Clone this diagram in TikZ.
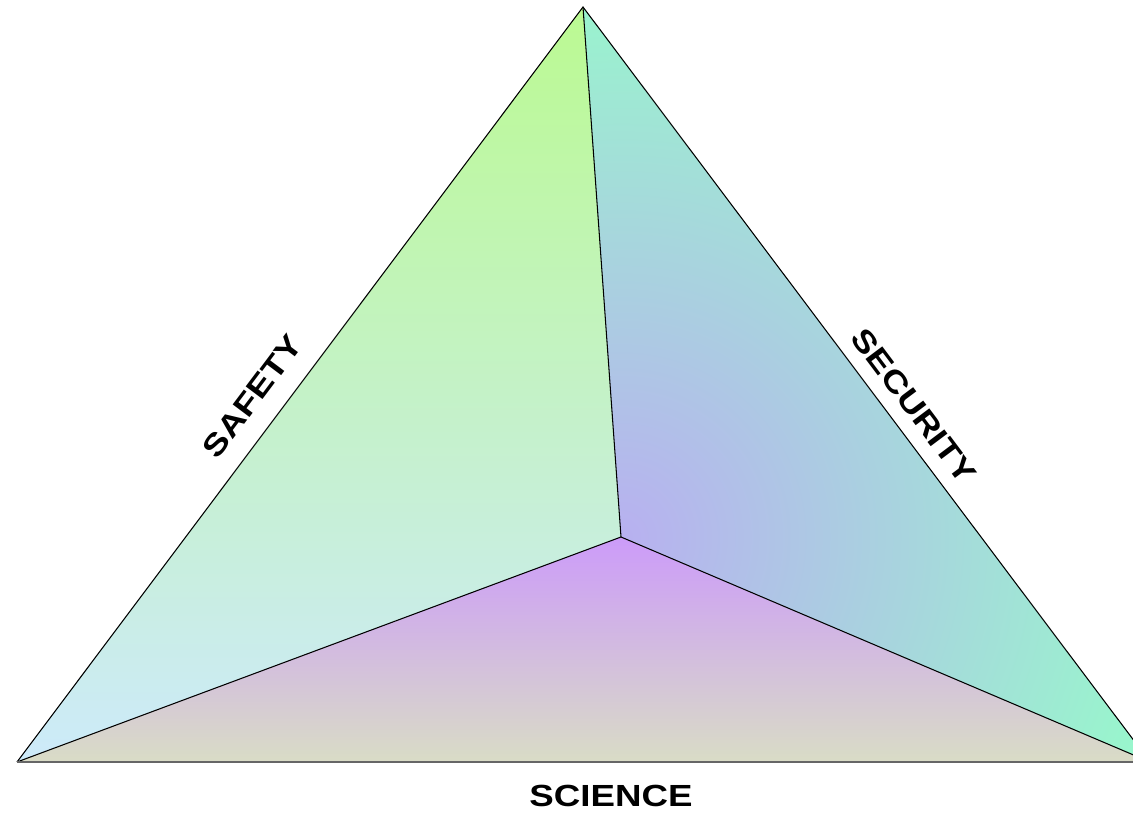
\documentclass[tikz,border=0pt]{standalone}
\usepackage{fontspec}
\setmainfont{Liberation Sans}
\newfontfamily\nhanfont[FakeStretch=1.2]{Liberation Sans}
\usepackage{xcolor}
\usepackage{tikz}
\definecolor{safetytop}{HTML}{BBFA92}
\definecolor{safetybot}{HTML}{CDEAFA}
\definecolor{scitop}{HTML}{CC9BF9}
\definecolor{scibot}{HTML}{D9DCC6}
\definecolor{secin}{HTML}{B8B0F0}
\definecolor{secout}{HTML}{98F7CC}

\begin{document}
\begin{tikzpicture}[x=0.02cm,y=0.02cm,
	canh/.style={draw=black,line width=0.6pt},
	nhan/.style={font=\nhanfont\fontsize{17.4}{20}\selectfont\bfseries,inner sep=0pt}]
			\clip (0,0) rectangle (1133,818);
			% Các đỉnh
			\coordinate (A) at (583,811);
			\coordinate (L) at (17,56);
			\coordinate (R) at (1150,56);
			\coordinate (I) at (621,281);
			% Vẽ các mặt
			\shade[top color=safetytop,bottom color=safetybot] (A) -- (L) -- (I) -- cycle;
			\shade[top color=scitop,bottom color=scibot] (L) -- (R) -- (I) -- cycle;
			\begin{scope}
				\clip (A) -- (I) -- (R) -- cycle;
				\fill[secout] (A) -- (I) -- (R) -- cycle;
				\shade[inner color=secin,outer color=secout] (I) circle (11.2cm);
			\end{scope}
			% Vẽ cạnh
			\draw[canh] (L) -- (A) -- (R);
			\draw[canh] (A) -- (I);
			\draw[canh] (L) -- (I) -- (R);
			\draw[line width=1pt,black!60] (L) -- (R);
			% Vẽ nhãn
			\node[nhan,rotate=53.13] (safety) at (252.7,421.7) {SAFETY};
			\node[nhan,rotate=-53.13] (security) at (914,412) {SECURITY};
			\node[nhan] (science) at (611,22) {SCIENCE};
		\end{tikzpicture}
\end{document}
